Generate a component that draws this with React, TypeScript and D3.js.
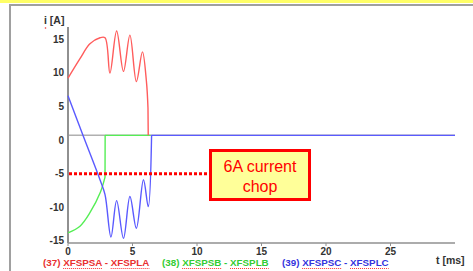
import { useRef, useEffect } from 'react';
import * as d3 from 'd3';

interface Pt {
  t: number;
  v: number;
}

// Phase currents (t in ms, i in A)
// smooth part, then the straight tail after the chop
const phaseA_t = [0, 0.93, 1.7, 2.48, 2.87, 3.25, 3.77, 4.3, 4.8, 5.3, 5.77, 6.08, 6.2];
const phaseA_v = [9.2, 12.1, 14.3, 15.2, 15.2, 9.95, 16.2, 10.2, 15.6, 8.7, 13.1, 8.7, 4.8];
const phaseA_tail_t = [6.2, 6.22];
const phaseA_tail_v = [4.8, 0.7];

const phaseB_t = [0, 0.93, 1.7, 2.5, 2.87];
const phaseB_v = [-13.8, -12.8, -10.8, -7.8, -5.5];
const phaseB_tail_t = [2.87, 2.88, 6.4];
const phaseB_tail_v = [-5.5, 0.7, 0.7];

const phaseC_t = [0, 1.16, 2.48, 2.87, 3.33, 3.77, 4.3, 4.8, 5.3, 5.85, 6.22, 6.48];
const phaseC_v = [6.6, 0.7, -5.9, -8.1, -14.4, -9, -14.6, -8.4, -13.1, -5.9, -9.9, 0.7];
const phaseC_tail_t = [6.48, 30];
const phaseC_tail_v = [0.7, 0.7];

const baseline_t = [0, 30];
const baseline_v = [0.7, 0.7];

const xTicks = [0, 5, 10, 15, 20, 25];
const yTicks = [15, 10, 5, 0, -5, -10, -15];
const chopLevel = -5;

const legendItems = [
  { label: '(37) ', a: 'XFSPSA', b: 'XFSPLA', color: '#e83030' },
  { label: '(38) ', a: 'XFSPSB', b: 'XFSPLB', color: '#33cc33' },
  { label: '(39) ', a: 'XFSPSC', b: 'XFSPLC', color: '#3333dd' },
];

const W = 473;
const H = 271;
const FONT = 'Liberation Sans, Arial, sans-serif';

const zip = (ts: number[], vs: number[]): Pt[] => ts.map((t, i) => ({ t, v: vs[i] }));

export default function App() {
  const svgRef = useRef<SVGSVGElement>(null);

  useEffect(() => {
    const svg = svgRef.current;
    if (!svg) return;
    const root = d3.select(svg);
    root.selectAll('*').remove();

    const x = d3.scaleLinear().domain([0, 30]).range([68, 455]);
    const y = d3.scaleLinear().domain([-15.3, 16.8]).range([243, 27]);

    // page chrome
    root.append('rect').attr('x', 0).attr('y', 0).attr('width', W).attr('height', 3).attr('fill', '#ffff66');
    root.append('rect').attr('x', 10).attr('y', 5).attr('width', W + 20).attr('height', H + 20)
      .attr('fill', 'none').attr('stroke', '#a0a0a0').attr('stroke-width', 2);

    const smooth = d3.line<Pt>().x(d => x(d.t)).y(d => y(d.v)).curve(d3.curveCatmullRom.alpha(0.5));
    const straight = d3.line<Pt>().x(d => x(d.t)).y(d => y(d.v));

    // zero reference
    root.append('path').attr('d', straight(zip(baseline_t, baseline_v))!)
      .attr('fill', 'none').attr('stroke', '#b0b0b0').attr('stroke-width', 1.5);

    // axes
    root.append('line').attr('x1', x(0)).attr('x2', x(0)).attr('y1', y(16.8)).attr('y2', y(-15.3))
      .attr('stroke', '#909090').attr('stroke-width', 2);
    root.append('line').attr('x1', x(0)).attr('x2', x(30)).attr('y1', y(-15.3)).attr('y2', y(-15.3))
      .attr('stroke', '#909090').attr('stroke-width', 1.5);

    xTicks.forEach(t => {
      root.append('line').attr('x1', x(t)).attr('x2', x(t)).attr('y1', y(-15.3)).attr('y2', y(-15.3) + 3)
        .attr('stroke', '#909090');
      root.append('text').attr('x', x(t)).attr('y', 255).attr('text-anchor', 'middle')
        .attr('font-family', FONT).attr('font-size', 10).attr('font-weight', 'bold').attr('fill', '#333')
        .text(t);
    });
    yTicks.forEach(v => {
      root.append('text').attr('x', 64).attr('y', y(v)).attr('dy', '0.35em').attr('text-anchor', 'end')
        .attr('font-family', FONT).attr('font-size', 10).attr('font-weight', 'bold').attr('fill', '#333')
        .text(v);
    });

    root.append('text').attr('x', 44).attr('y', 24).attr('font-family', FONT).attr('font-size', 10.5)
      .attr('font-weight', 'bold').attr('fill', '#333').text('i [A]');
    root.append('circle').attr('cx', 45.5).attr('cy', 28).attr('r', 0.8).attr('fill', '#e83030');
    root.append('text').attr('x', 436).attr('y', 264).attr('font-family', FONT).attr('font-size', 10.5)
      .attr('font-weight', 'bold').attr('fill', '#333').text('t [ms]');

    // phase currents
    const series: [Pt[], Pt[], string][] = [
      [zip(phaseB_t, phaseB_v), zip(phaseB_tail_t, phaseB_tail_v), '#55ee55'],
      [zip(phaseA_t, phaseA_v), zip(phaseA_tail_t, phaseA_tail_v), '#ff5c5c'],
      [zip(phaseC_t, phaseC_v), zip(phaseC_tail_t, phaseC_tail_v), '#5a5aff'],
    ];
    series.forEach(([pts, tail, color]) => {
      root.append('path').attr('d', smooth(pts)! + straight(tail)!.replace(/^M/, 'L'))
        .attr('fill', 'none').attr('stroke', color).attr('stroke-width', 1.4).attr('stroke-linejoin', 'round');
    });

    // chop annotation
    const boxX = 210.5, boxY = 150.5, boxW = 99, boxH = 49;
    root.append('line').attr('x1', x(0) + 1).attr('x2', boxX - 1.5).attr('y1', y(chopLevel)).attr('y2', y(chopLevel))
      .attr('stroke', '#ff0000').attr('stroke-width', 3).attr('stroke-dasharray', '3,2');
    root.append('rect').attr('x', boxX).attr('y', boxY).attr('width', boxW).attr('height', boxH)
      .attr('fill', '#ffff99').attr('stroke', '#ff0000').attr('stroke-width', 3);
    const boxText = root.append('text').attr('text-anchor', 'middle').attr('font-family', FONT)
      .attr('font-size', 16).attr('fill', '#ff0000');
    boxText.append('tspan').attr('x', boxX + boxW / 2).attr('y', 172).text('6A current');
    boxText.append('tspan').attr('x', boxX + boxW / 2).attr('y', 192).text('chop');

    // legend
    const legendX = [43, 162, 282];
    legendItems.forEach((item, i) => {
      const txt = root.append('text').attr('x', legendX[i]).attr('y', 266).attr('font-family', FONT)
        .attr('font-size', 9.8).attr('font-weight', 'bold').attr('fill', item.color)
        .text(`${item.label}${item.a} - ${item.b}`);
      const node = txt.node() as SVGTextElement;
      const startA = item.label.length;
      const startB = startA + item.a.length + 3;
      [[startA, item.a.length], [startB, item.b.length]].forEach(([s, n]) => {
        const x0 = legendX[i] + node.getSubStringLength(0, s);
        const w = node.getSubStringLength(s, n);
        root.append('line').attr('x1', x0).attr('x2', x0 + w).attr('y1', 268.5).attr('y2', 268.5)
          .attr('stroke', '#ff3030').attr('stroke-width', 1).attr('stroke-dasharray', '1,1');
      });
    });
  }, []);

  return (
    <div style={{ position: 'fixed', left: 0, top: 0, width: W, height: H, background: '#fff' }}>
      <svg ref={svgRef} width={W} height={H} style={{ display: 'block' }} />
    </div>
  );
}
